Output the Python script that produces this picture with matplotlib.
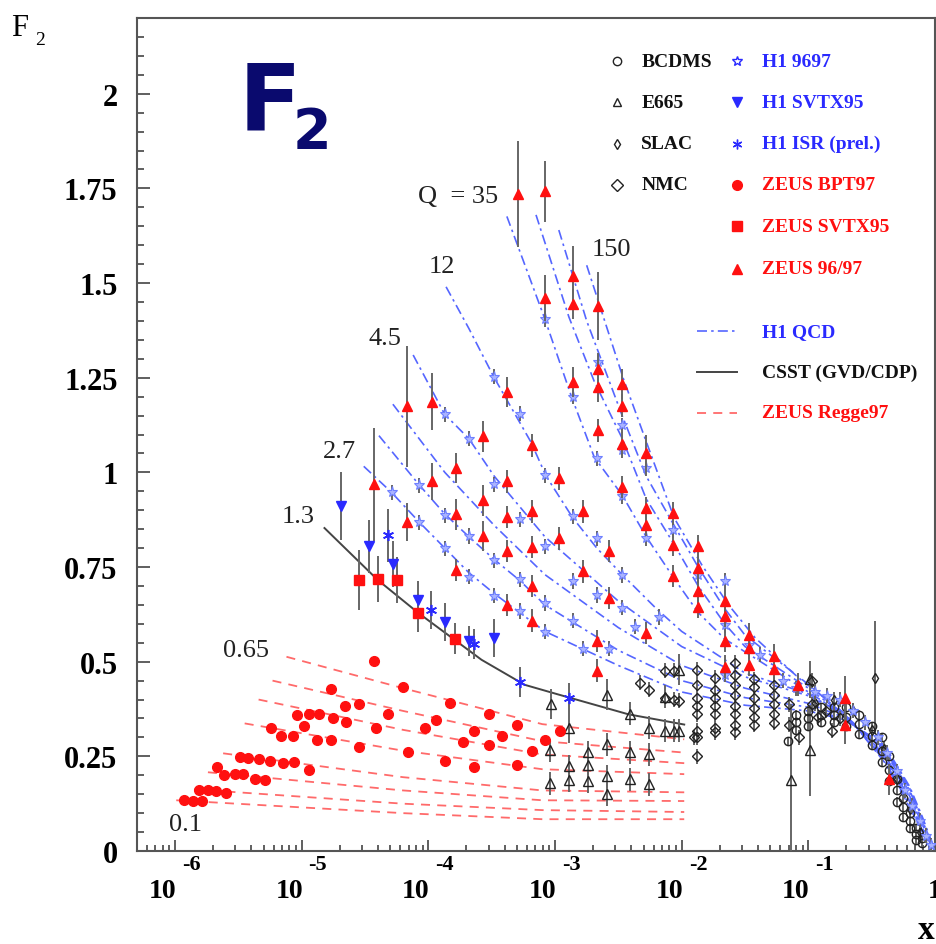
import numpy as np
import matplotlib.pyplot as plt
from matplotlib.ticker import LogLocator, MultipleLocator, NullFormatter

plt.rcParams['font.family'] = 'Liberation Serif'
plt.rcParams['mathtext.fontset'] = 'custom'
plt.rcParams['mathtext.rm'] = 'Liberation Serif'
plt.rcParams['mathtext.it'] = 'Liberation Serif:italic'
plt.rcParams['mathtext.bf'] = 'Liberation Serif:bold'

# ---- data: x given as log10(x) ----
# ZEUS BPT97 (red circles)
bpt_logx = [-5.93, -5.86, -5.79, -5.81, -5.74, -5.68, -5.60, -5.67, -5.61, -5.53,
            -5.46, -5.49, -5.42, -5.34, -5.25, -5.15, -5.06, -4.94, -5.37, -5.29,
            -5.24, -5.16, -5.07, -4.98, -4.88, -4.77, -4.55, -5.04, -4.94, -4.86,
            -4.75, -4.65, -4.66, -4.55, -4.41, -4.32, -4.16, -4.03, -3.94, -3.83,
            -3.73, -3.64, -3.52, -3.52, -3.42, -3.30, -3.30, -3.64, -3.87, -3.18,
            -3.08, -2.96, -4.77, -4.20, -4.43]
bpt_f2 = [0.134, 0.132, 0.132, 0.161, 0.161, 0.158, 0.153, 0.221, 0.200, 0.203,
          0.203, 0.247, 0.245, 0.242, 0.239, 0.232, 0.234, 0.213, 0.189, 0.187,
          0.326, 0.305, 0.305, 0.329, 0.292, 0.292, 0.274, 0.358, 0.361, 0.361,
          0.350, 0.342, 0.382, 0.387, 0.326, 0.363, 0.261, 0.324, 0.347, 0.392,
          0.289, 0.318, 0.361, 0.279, 0.305, 0.334, 0.226, 0.221, 0.239, 0.263,
          0.292, 0.316, 0.429, 0.434, 0.503]

# ZEUS SVTX95 (red squares)
zsv_logx = [-4.55, -4.40, -4.25, -4.08, -3.79]
zsv_f2 = [0.716, 0.718, 0.716, 0.629, 0.561]
zsv_err = [0.08, 0.06, 0.06, 0.05, 0.04]

# ZEUS 96/97 (red triangles)
z97_logx = [-4.17, -3.97, -4.43, -4.17, -3.97, -3.78, -3.78, -3.57, -3.57, -3.57,
            -3.78, -3.38, -3.38, -3.38, -3.38, -3.38, -3.18, -3.18, -3.18, -3.18,
            -3.18, -3.29, -3.08, -3.08, -2.86, -2.86, -2.66, -2.66, -2.66, -2.66,
            -2.86, -2.47, -2.47, -2.47, -2.28, -2.97, -2.78, -2.97, -2.78, -2.57,
            -2.57, -2.47, -2.28, -2.28, -2.07, -2.07, -2.07, -1.87, -1.87, -1.87,
            -1.87, -2.28, -2.67, -2.67, -1.66, -1.66, -1.66, -1.66, -1.47, -1.47,
            -1.47, -1.27, -1.27, -1.08, -0.71, -0.71, -0.36]
z97_f2 = [1.174, 1.187, 0.968, 0.868, 0.976, 1.011, 0.889, 1.095, 0.926, 0.832,
          0.742, 1.213, 0.976, 0.882, 0.792, 0.650, 1.071, 0.897, 0.803, 0.700,
          0.608, 1.734, 1.742, 1.461, 1.518, 1.445, 1.439, 1.274, 1.226, 1.111,
          1.239, 1.234, 1.176, 1.076, 1.050, 0.984, 0.897, 0.826, 0.739, 0.792,
          0.668, 0.961, 0.905, 0.861, 0.892, 0.808, 0.726, 0.805, 0.747, 0.687,
          0.645, 0.576, 0.555, 0.476, 0.661, 0.621, 0.555, 0.487, 0.571, 0.537,
          0.492, 0.516, 0.482, 0.439, 0.403, 0.332, 0.189]
z97_err = [0.16, 0.075, 0.15, 0.05, 0.05, 0.04, 0.04, 0.04, 0.04, 0.04,
           0.03, 0.04, 0.03, 0.03, 0.03, 0.03, 0.03, 0.03, 0.03, 0.03,
           0.03, 0.14, 0.08, 0.06, 0.08, 0.04, 0.09, 0.04, 0.04, 0.03,
           0.04, 0.04, 0.03, 0.03, 0.05, 0.03, 0.03, 0.03, 0.03, 0.03,
           0.03, 0.03, 0.03, 0.03, 0.03, 0.03, 0.03, 0.03, 0.03, 0.03,
           0.03, 0.03, 0.03, 0.03, 0.03, 0.03, 0.03, 0.03, 0.03, 0.03,
           0.03, 0.03, 0.03, 0.03, 0.06, 0.05, 0.04]

# H1 9697 (blue stars)
h1_logx = [-4.29, -4.07, -4.07, -3.87, -3.87, -3.87, -3.68, -3.68, -3.68, -3.48,
           -3.48, -3.48, -3.48, -3.28, -3.28, -3.28, -3.28, -3.08, -3.08, -3.08,
           -3.08, -3.08, -2.86, -2.66, -2.47, -2.47, -2.67, -2.47, -2.28, -2.28,
           -2.07, -1.87, -2.86, -2.67, -2.47, -2.86, -2.67, -2.47, -2.86, -2.57,
           -2.37, -2.18, -2.78, -1.66, -1.66, -1.47, -1.38, -1.66, -1.20, -1.10,
           -0.95, -0.85, -0.75, -0.65, -0.55, -0.45, -0.38, -0.30, -0.24, -0.18,
           -0.12, -0.07, -0.03]
h1_f2 = [0.947, 0.966, 0.868, 1.153, 0.887, 0.800, 1.089, 0.832, 0.724, 1.253,
         0.968, 0.768, 0.674, 1.155, 0.876, 0.718, 0.634, 0.992, 0.805, 0.655,
         0.579, 1.405, 1.200, 1.292, 1.124, 1.058, 1.037, 0.937, 1.011, 0.826,
         0.847, 0.729, 0.884, 0.826, 0.729, 0.713, 0.676, 0.642, 0.608, 0.534,
         0.592, 0.618, 0.534, 0.713, 0.597, 0.545, 0.518, 0.466, 0.450, 0.430,
         0.420, 0.410, 0.400, 0.370, 0.340, 0.300, 0.260, 0.210, 0.160, 0.120,
         0.080, 0.040, 0.015]

# H1 SVTX95 (blue down triangles)
hsv_logx = [-4.69, -4.47, -4.28, -4.08, -3.87, -3.68, -3.48]
hsv_f2 = [0.911, 0.805, 0.758, 0.663, 0.605, 0.555, 0.563]
hsv_err = [0.09, 0.07, 0.06, 0.05, 0.05, 0.04, 0.05]

# H1 ISR prel. (blue asterisks)
isr_logx = [-4.32, -3.98, -3.64, -3.28, -2.89]
isr_f2 = [0.834, 0.637, 0.547, 0.447, 0.405]
isr_err = [0.07, 0.05, 0.04, 0.04, 0.04]

# E665 (open triangles)
e665_logx = [-3.03, -2.89, -3.04, -2.89, -3.04, -2.89, -2.74, -2.74, -2.74, -2.59,
             -2.59, -2.59, -2.59, -2.41, -2.41, -2.41, -2.26, -2.26, -2.13, -2.06,
             -2.02, -2.02, -2.13, -2.26, -1.14, -0.99, -0.99]
e665_f2 = [0.389, 0.324, 0.266, 0.224, 0.179, 0.187, 0.261, 0.226, 0.184, 0.413,
           0.282, 0.197, 0.150, 0.363, 0.261, 0.189, 0.255, 0.176, 0.318, 0.318,
           0.318, 0.479, 0.408, 0.326, 0.187, 0.266, 0.453]
e665_err = [0.04, 0.04, 0.03, 0.03, 0.03, 0.03, 0.03, 0.03, 0.03, 0.04,
            0.03, 0.03, 0.03, 0.03, 0.03, 0.03, 0.03, 0.03, 0.03, 0.03,
            0.03, 0.04, 0.03, 0.03, 0.20, 0.12, 0.05]

# NMC (open diamonds)
nmc_logx = [-1.88, -1.88, -1.88, -1.88, -1.88, -1.88, -1.88, -1.88,
            -1.74, -1.74, -1.74, -1.74, -1.74, -1.74, -1.74,
            -1.58, -1.58, -1.58, -1.58, -1.58, -1.58, -1.58, -1.58,
            -1.43, -1.43, -1.43, -1.43, -1.43, -1.43,
            -1.27, -1.27, -1.27, -1.27, -1.27,
            -2.33, -2.26, -2.13, -2.06, -2.13, -2.06, -2.02, -1.90,
            -1.15, -1.15, -1.07, -0.97, -0.97, -0.92, -0.86, -0.81, -0.75]
nmc_f2 = [0.479, 0.439, 0.405, 0.384, 0.361, 0.318, 0.300, 0.250,
          0.458, 0.426, 0.405, 0.384, 0.361, 0.326, 0.313,
          0.497, 0.466, 0.439, 0.413, 0.384, 0.361, 0.334, 0.313,
          0.453, 0.432, 0.405, 0.379, 0.353, 0.334,
          0.439, 0.413, 0.387, 0.361, 0.339,
          0.445, 0.426, 0.476, 0.476, 0.405, 0.400, 0.397, 0.300,
          0.387, 0.334, 0.300, 0.450, 0.387, 0.353, 0.370, 0.318, 0.350]

# BCDMS (open circles)
bcdms_logx = [-1.16, -1.10, -1.10, -1.10, -1.00, -1.00, -1.00, -0.90, -0.90, -0.90,
              -0.80, -0.80, -0.80, -0.70, -0.70, -0.70, -0.60, -0.60, -0.60,
              -0.50, -0.50, -0.50, -0.42, -0.42, -0.42, -0.36, -0.36, -0.36,
              -0.30, -0.30, -0.30, -0.25, -0.25, -0.25, -0.20, -0.20, -0.20,
              -0.15, -0.15, -0.15, -0.10, -0.10]
bcdms_f2 = [0.290, 0.360, 0.340, 0.320, 0.370, 0.350, 0.330, 0.380, 0.360, 0.340,
            0.380, 0.360, 0.340, 0.380, 0.355, 0.330, 0.360, 0.335, 0.310,
            0.330, 0.305, 0.280, 0.300, 0.265, 0.235, 0.250, 0.215, 0.185,
            0.190, 0.160, 0.130, 0.140, 0.115, 0.090, 0.100, 0.080, 0.060,
            0.060, 0.045, 0.030, 0.035, 0.020]

# SLAC (small diamonds)
slac_logx = [-0.95, -0.80, -0.65, -0.50, -0.47, -0.40, -0.30, -0.20, -0.12]
slac_f2 = [0.390, 0.400, 0.370, 0.320, 0.458, 0.270, 0.190, 0.110, 0.050]
slac_err = [0.02, 0.02, 0.02, 0.02, 0.15, 0.02, 0.02, 0.02, 0.02]

# H1 QCD curves (blue dash-dot), low to high Q^2
qcd_logx = [
    [-4.51, -4.29, -4.07, -3.87, -3.68, -3.48, -3.28, -3.08, -2.5, -2.0, -1.5, -1.0, -0.7, -0.4, -0.2, -0.1, 0.0],
    [-4.39, -4.07, -3.87, -3.68, -3.48, -3.28, -3.08, -2.5, -2.0, -1.5, -1.0, -0.7, -0.4, -0.2, -0.1, 0.0],
    [-4.28, -3.87, -3.48, -3.08, -2.5, -2.0, -1.5, -1.0, -0.7, -0.4, -0.2, -0.1, 0.0],
    [-4.12, -3.87, -3.68, -3.48, -3.28, -3.08, -2.5, -2.0, -1.5, -1.0, -0.7, -0.4, -0.2, -0.1, 0.0],
    [-3.86, -3.68, -3.48, -3.19, -3.07, -2.86, -2.67, -2.47, -2.2, -2.0, -1.5, -1.0, -0.7, -0.4, -0.2, -0.1, 0.0],
    [-3.38, -3.08, -2.87, -2.69, -2.47, -2.28, -2.06, -1.87, -1.66, -1.0, -0.7, -0.4, -0.2, -0.1, 0.0],
    [-3.15, -2.89, -2.69, -2.47, -2.28, -2.06, -1.87, -1.66, -1.5, -1.0, -0.7, -0.4, -0.2, -0.1, 0.0],
    [-2.97, -2.75, -2.47, -2.28, -2.06, -1.87, -1.66, -1.5, -1.0, -0.7, -0.4, -0.2, -0.1, 0.0],
    [-2.75, -2.46, -2.26, -2.06, -1.84, -1.63, -1.42, -1.08, -0.7, -0.4, -0.2, -0.1, 0.0],
]
qcd_f2 = [
    [1.016, 0.947, 0.868, 0.80, 0.735, 0.68, 0.63, 0.58, 0.49, 0.42, 0.385, 0.37, 0.345, 0.28, 0.17, 0.09, 0.0],
    [1.097, 0.966, 0.89, 0.83, 0.77, 0.715, 0.65, 0.53, 0.45, 0.405, 0.38, 0.345, 0.275, 0.165, 0.085, 0.0],
    [1.18, 1.0, 0.86, 0.73, 0.59, 0.49, 0.43, 0.39, 0.35, 0.27, 0.16, 0.08, 0.0],
    [1.31, 1.153, 1.089, 0.99, 0.91, 0.83, 0.66, 0.54, 0.46, 0.41, 0.355, 0.265, 0.155, 0.075, 0.0],
    [1.49, 1.38, 1.25, 1.08, 0.99, 0.88, 0.80, 0.73, 0.64, 0.58, 0.47, 0.415, 0.355, 0.255, 0.145, 0.07, 0.0],
    [1.676, 1.405, 1.20, 1.04, 0.94, 0.83, 0.72, 0.63, 0.56, 0.42, 0.355, 0.25, 0.14, 0.065, 0.0],
    [1.68, 1.41, 1.24, 1.09, 0.93, 0.81, 0.70, 0.60, 0.54, 0.43, 0.355, 0.245, 0.13, 0.06, 0.0],
    [1.64, 1.40, 1.15, 0.99, 0.86, 0.75, 0.64, 0.57, 0.44, 0.355, 0.24, 0.12, 0.055, 0.0],
    [1.547, 1.247, 1.063, 0.88, 0.755, 0.65, 0.563, 0.458, 0.36, 0.235, 0.115, 0.05, 0.0],
]

# ZEUS Regge97 curves (red dashed)
regge_logx = [
    [-5.12, -4.2, -3.1, -1.98],
    [-5.23, -4.2, -3.1, -1.98],
    [-5.34, -4.2, -3.1, -1.98],
    [-5.45, -4.2, -3.1, -1.98],
    [-5.62, -4.2, -3.1, -1.98],
    [-5.74, -4.2, -3.1, -1.98],
    [-5.85, -4.2, -3.1, -1.98],
    [-5.99, -4.2, -3.1, -1.98],
]
regge_f2 = [
    [0.513, 0.43, 0.335, 0.295],
    [0.45, 0.37, 0.29, 0.26],
    [0.40, 0.32, 0.255, 0.232],
    [0.337, 0.265, 0.216, 0.203],
    [0.258, 0.195, 0.16, 0.155],
    [0.208, 0.16, 0.134, 0.132],
    [0.163, 0.125, 0.108, 0.103],
    [0.134, 0.10, 0.084, 0.084],
]

# CSST (GVD/CDP) curve
csst_logx = [-4.82, -4.40, -4.08, -3.58, -3.24, -2.97, -2.42, -1.98]
csst_f2 = [0.853, 0.716, 0.629, 0.505, 0.439, 0.413, 0.361, 0.334]

# Q^2 labels
q_labels = ['Q  = 35', '12', '4.5', '2.7', '1.3', '150', '0.65', '0.1']
q_label_logx = [-4.08, -4.00, -4.47, -4.83, -5.16, -2.71, -5.62, -6.05]
q_label_f2 = [1.715, 1.530, 1.340, 1.040, 0.870, 1.575, 0.515, 0.055]

y_ticks = [0, 0.25, 0.5, 0.75, 1, 1.25, 1.5, 1.75, 2]
y_ticklabels = ['0', '0.25', '0.5', '0.75', '1', '1.25', '1.5', '1.75', '2']
x_decades = [-6, -5, -4, -3, -2, -1]

BLUE = '#2a2aff'
QCD_BLUE = '#5566ff'
STAR_BLUE = '#6f80ff'
RED = '#ff1010'
REGGE_RED = '#ff6a6a'
GREY = '#666666'


def lin(logx):
    return 10 ** np.asarray(logx, dtype=float)


fig = plt.figure(figsize=(9.37, 9.45), dpi=100)
ax = fig.add_axes([0.1462, 0.0984, 0.8517, 0.8815])
ax.set_xscale('log')
ax.set_xlim(10 ** -6.30, 1.0)
ax.set_ylim(0, 2.2)

# curves
for lx_, f_ in zip(regge_logx, regge_f2):
    ax.plot(lin(lx_), f_, color=REGGE_RED, ls=(0, (5, 4)), lw=1.3, zorder=2)
for lx_, f_ in zip(qcd_logx, qcd_f2):
    ax.plot(lin(lx_), f_, color=QCD_BLUE, ls=(0, (6, 2.5, 1.5, 2.5)), lw=1.2, zorder=2)
ax.plot(lin(csst_logx), csst_f2, color='#444444', lw=1.4, zorder=2)

eb = dict(ecolor=GREY, elinewidth=1.4, capsize=0, ls='none')

# fixed-target data
ax.errorbar(lin(bcdms_logx), bcdms_f2, yerr=0.012, marker='o', ms=6, mfc='none',
            mec='#222222', mew=1.0, zorder=3, **eb)
ax.errorbar(lin(nmc_logx), nmc_f2, yerr=0.02, marker='D', ms=5, mfc='none',
            mec='#222222', mew=1.0, zorder=3, **eb)
ax.errorbar(lin(slac_logx), slac_f2, yerr=slac_err, marker='d', ms=5, mfc='none',
            mec='#222222', mew=1.0, zorder=3, **eb)
ax.errorbar(lin(e665_logx), e665_f2, yerr=e665_err, marker='^', ms=7, mfc='none',
            mec='#222222', mew=1.0, zorder=3, **eb)

# H1
ax.errorbar(lin(h1_logx), h1_f2, yerr=0.02, marker='*', ms=8, mfc='#aab4ff',
            mec=STAR_BLUE, mew=0.8, zorder=4, **eb)
ax.errorbar(lin(hsv_logx), hsv_f2, yerr=hsv_err, marker='v', ms=7, mfc=BLUE,
            mec=BLUE, zorder=5, **eb)
ax.errorbar(lin(isr_logx), isr_f2, yerr=isr_err, marker=(6, 2, 0), ms=8, mfc=BLUE,
            mec=BLUE, mew=1.2, zorder=5, **eb)

# ZEUS
ax.errorbar(lin(bpt_logx), bpt_f2, yerr=0.01, marker='o', ms=7, mfc=RED,
            mec=RED, zorder=5, **eb)
ax.errorbar(lin(zsv_logx), zsv_f2, yerr=zsv_err, marker='s', ms=7, mfc=RED,
            mec=RED, zorder=5, **eb)
ax.errorbar(lin(z97_logx), z97_f2, yerr=z97_err, marker='^', ms=7, mfc=RED,
            mec=RED, zorder=5, **eb)

# Q^2 labels
for txt, lx_, f_ in zip(q_labels, q_label_logx, q_label_f2):
    ax.text(10 ** lx_, f_, txt, fontsize=19, color='#222222', ha='left', va='baseline', zorder=6)

# axes styling
for s in ax.spines.values():
    s.set_color('#555555')
    s.set_linewidth(1.5)
ax.set_yticks(y_ticks)
ax.set_yticklabels(y_ticklabels, fontsize=22, fontweight='bold')
ax.yaxis.set_minor_locator(MultipleLocator(0.05))
ax.xaxis.set_major_locator(LogLocator(base=10, numticks=12))
ax.xaxis.set_minor_locator(LogLocator(base=10, subs=np.arange(2, 10), numticks=12))
ax.xaxis.set_minor_formatter(NullFormatter())
ax.tick_params(axis='both', which='both', direction='in', color='#444444', width=1.2,
               top=False, right=False)
ax.tick_params(axis='y', which='major', length=9, pad=14)
ax.tick_params(axis='y', which='minor', length=5)
ax.tick_params(axis='x', which='major', length=8, labelbottom=False)
ax.tick_params(axis='x', which='minor', length=4)

for e in x_decades:
    ax.annotate('10', xy=(10.0 ** e, 0), xycoords=('data', 'axes fraction'),
                xytext=(1, -33), textcoords='offset points', ha='right', va='baseline',
                fontsize=20, fontweight='bold', annotation_clip=False)
    ax.annotate(str(e), xy=(10.0 ** e, 0), xycoords=('data', 'axes fraction'),
                xytext=(5, -13), textcoords='offset points', ha='left', va='baseline',
                fontsize=16, fontweight='bold', annotation_clip=False)
ax.annotate('1', xy=(1.0, 0), xycoords=('data', 'axes fraction'), xytext=(0, -33),
            textcoords='offset points', ha='center', va='baseline', fontsize=20,
            fontweight='bold', annotation_clip=False)

fig.text(0.012, 0.962, 'F', fontsize=22, ha='left', va='baseline')
fig.text(0.037, 0.952, '2', fontsize=14, ha='left', va='baseline')
fig.text(0.988, 0.006, 'x', fontsize=24, fontweight='bold', ha='center', va='baseline')

# big title
fig.text(0.255, 0.862, 'F', fontsize=66, fontweight='bold', color='#0a0a6e',
         family='DejaVu Sans', ha='left', va='baseline')
fig.text(0.312, 0.843, '2', fontsize=40, fontweight='bold', color='#0a0a6e',
         family='DejaVu Sans', ha='left', va='baseline')

# legend (drawn by hand, two columns)
T = ax.transAxes
leg_font = dict(fontsize=14, fontweight='bold', va='center', ha='left', transform=T)
col1 = [('o', 'BCDMS'), ('^', 'E665'), ('d', 'SLAC'), ('D', 'NMC')]
row_y = [0.948, 0.899, 0.849, 0.800, 0.750, 0.699]
for (m, name), yy in zip(col1, row_y):
    ax.plot([0.6015], [yy], marker=m, ms=6 if m != 'd' else 5, mfc='none', mec='#222222',
            mew=1.0, transform=T, ls='none')
    ax.text(0.632, yy, name, color='#111111', **leg_font)

col2 = [('*', 'H1 9697', BLUE, 'none'), ('v', 'H1 SVTX95', BLUE, BLUE),
        ((6, 2, 0), 'H1 ISR (prel.)', BLUE, BLUE), ('o', 'ZEUS BPT97', RED, RED),
        ('s', 'ZEUS SVTX95', RED, RED), ('^', 'ZEUS 96/97', RED, RED)]
for (m, name, c, fc), yy in zip(col2, row_y):
    ax.plot([0.752], [yy], marker=m, ms=7, mfc=fc, mec=c, mew=1.0, transform=T, ls='none')
    ax.text(0.783, yy, name, color=c, **leg_font)

line_y = [0.624, 0.575, 0.526]
ax.plot([0.702, 0.752], [line_y[0]] * 2, color=QCD_BLUE, ls=(0, (6, 2.5, 1.5, 2.5)), lw=1.2, transform=T)
ax.text(0.783, line_y[0], 'H1 QCD', color=BLUE, **leg_font)
ax.plot([0.702, 0.752], [line_y[1]] * 2, color='#444444', lw=1.4, transform=T)
ax.text(0.783, line_y[1], 'CSST (GVD/CDP)', color='#111111', **leg_font)
ax.plot([0.702, 0.752], [line_y[2]] * 2, color=REGGE_RED, ls=(0, (5, 4)), lw=1.3, transform=T)
ax.text(0.783, line_y[2], 'ZEUS Regge97', color=RED, **leg_font)

fig.savefig('out.png', dpi=100)
